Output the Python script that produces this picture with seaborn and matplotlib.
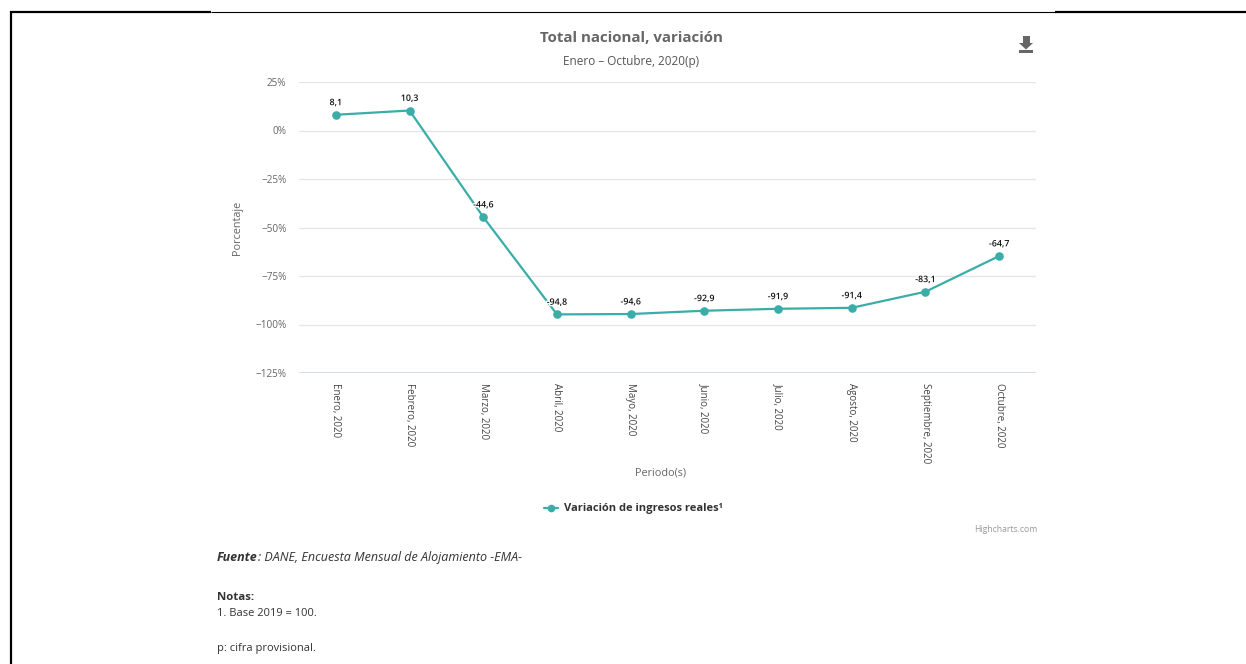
import matplotlib
matplotlib.use("Agg")
import matplotlib.pyplot as plt
from matplotlib.lines import Line2D
from matplotlib.patches import Polygon, Rectangle
import matplotlib.patheffects as pe
import seaborn as sns
import pandas as pd

# Monthly data
periods = ["Enero, 2020", "Febrero, 2020", "Marzo, 2020", "Abril, 2020", "Mayo, 2020",
           "Junio, 2020", "Julio, 2020", "Agosto, 2020", "Septiembre, 2020", "Octubre, 2020"]
variation = [8.1, 10.3, -44.6, -94.8, -94.6, -92.9, -91.9, -91.4, -83.1, -64.7]
y_ticks = [25, 0, -25, -50, -75, -100, -125]

series_name = "Variación de ingresos reales¹"
title = "Total nacional, variación"
subtitle = "Enero – Octubre, 2020(p)"

sns.set_theme(style="white")
plt.rcParams["font.family"] = ["Open Sans", "DejaVu Sans"]

LINE_COLOR = "#3aada8"
GRAY = "#666666"

W, H = 1246, 664
fig = plt.figure(figsize=(W / 100, H / 100), dpi=100)
fig.patch.set_facecolor("white")


def fx(px):
    return px / W


def fy(py):
    return 1 - py / H


ax = fig.add_axes([fx(299), fy(373), fx(1036) - fx(299), fy(82) - fy(373)])

df = pd.DataFrame({"periodo": periods, "valor": variation})
df["pos"] = range(len(df))
sns.lineplot(data=df, x="pos", y="valor", ax=ax, color=LINE_COLOR, linewidth=1.6,
             marker="o", markersize=6.2, markeredgewidth=0, sort=False,
             label=series_name, legend=False)

ax.set_xlim(-0.5, len(periods) - 0.5)
ax.set_ylim(-125, 25)
ax.set_yticks(y_ticks)
ax.set_yticklabels([f"{v}%".replace("-", "−") for v in y_ticks], color=GRAY, fontsize=7.2)
ax.set_xticks(df["pos"])
ax.set_xticklabels(periods, rotation=-90, fontsize=7, color="#444444")
ax.tick_params(axis="x", length=0, pad=7)
ax.tick_params(axis="y", length=0, pad=9)

for v in y_ticks[:-1]:
    ax.axhline(v, color="#e6e6e6", linewidth=1, zorder=0)
ax.axhline(-125, color="#ccd6eb", linewidth=1.2, zorder=0)
for s in ax.spines.values():
    s.set_visible(False)
ax.set_xlabel("")
ax.set_ylabel("Porcentaje", color=GRAY, fontsize=7.8, labelpad=9)

# Point labels
for x, v in zip(df["pos"], df["valor"]):
    ax.annotate(f"{v:.1f}".replace(".", ","), (x, v), xytext=(0, 5.5),
                textcoords="offset points", ha="center", va="bottom",
                fontsize=6.4, color="#111111", fontweight="semibold",
                path_effects=[pe.withStroke(linewidth=2, foreground="white")])

# Titles
fig.text(fx(631), fy(38), title, ha="center", va="center", fontsize=10.8,
         fontweight="bold", color=GRAY)
fig.text(fx(631), fy(61), subtitle, ha="center", va="center", fontsize=8.5, color="#555555")
fig.text(fx(661), fy(473), "Periodo(s)", ha="center", va="center", fontsize=7.8, color=GRAY)

# Legend
handle = Line2D([], [], color=LINE_COLOR, linewidth=1.6, marker="o", markersize=5.5,
                markeredgewidth=0)
fig.legend([handle], [series_name], loc="center", bbox_to_anchor=(fx(633), fy(509)),
           frameon=False, handlelength=1.3, handletextpad=0.5,
           prop={"size": 8, "weight": "bold"}, labelcolor="#333333")

fig.text(fx(1037), fy(530), "Highcharts.com", ha="right", va="center", fontsize=6.2,
         color="#999999")

# Download icon
icon = GRAY
fig.add_artist(Rectangle((fx(1022.5), fy(43)), fx(7), fy(36) - fy(43),
                         transform=fig.transFigure, color=icon, lw=0))
fig.add_artist(Polygon([(fx(1019), fy(43)), (fx(1033), fy(43)), (fx(1026), fy(49.5))],
                       closed=True, transform=fig.transFigure, color=icon, lw=0))
fig.add_artist(Rectangle((fx(1019), fy(52.5)), fx(14), fy(50.5) - fy(52.5),
                         transform=fig.transFigure, color=icon, lw=0))

# Source and notes
TXT = "#333333"
src_y = fy(561)
src_head = fig.text(fx(217), src_y, "Fuente", ha="left", va="baseline", fontsize=9,
                    style="italic", fontweight="bold", color=TXT)
renderer = fig.canvas.get_renderer()
head_box = src_head.get_window_extent(renderer)
fig.text(head_box.x1 / W, src_y, ": DANE, Encuesta Mensual de Alojamiento -EMA-",
         ha="left", va="baseline", fontsize=9, style="italic", color=TXT)
fig.text(fx(217), fy(597), "Notas:", ha="left", va="center", fontsize=8.2,
         fontweight="bold", color=TXT)
fig.text(fx(217), fy(614), "1. Base 2019 = 100.", ha="left", va="center", fontsize=8,
         color=TXT)
fig.text(fx(217), fy(648), "p: cifra provisional.", ha="left", va="center", fontsize=8,
         color=TXT)

# Page frame
def hline(x0, x1, y, lw):
    fig.add_artist(Line2D([fx(x0), fx(x1)], [fy(y), fy(y)], transform=fig.transFigure,
                          color="black", linewidth=lw, solid_capstyle="butt"))

hline(10, 211, 12, 1.6)
hline(211, 1055, 11.5, 0.8)
hline(1055, 1246, 12, 1.6)
fig.add_artist(Line2D([fx(11), fx(11)], [fy(11), fy(664)], transform=fig.transFigure,
                      color="black", linewidth=1.6, solid_capstyle="butt"))

fig.savefig("out.png", dpi=100)
